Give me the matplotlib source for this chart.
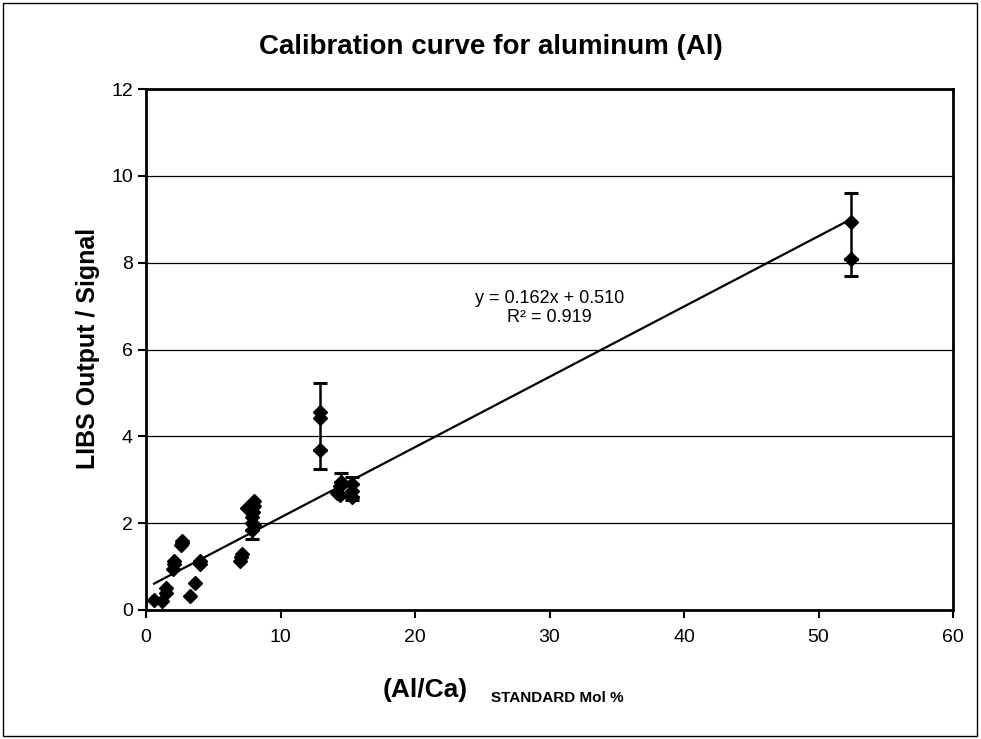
import matplotlib.pyplot as plt
from matplotlib.patches import Rectangle

plt.rcParams['font.family'] = ['Liberation Sans', 'DejaVu Sans']

# Al/Ca standard mol % vs LIBS signal, one entry per replicate
al_ca = [0.6, 1.2, 1.45, 1.5, 2.0, 2.05, 2.05, 2.6, 2.7, 2.7,
         3.3, 3.65, 4.0, 4.05, 7.0, 7.1, 7.15,
         7.5, 7.85, 7.9, 7.9, 7.95, 8.0, 8.0, 8.05,
         12.9, 12.9, 12.9,
         14.2, 14.4, 14.4, 14.5,
         15.3, 15.3, 15.3,
         52.4, 52.4]
signal = [0.23, 0.2, 0.4, 0.5, 0.95, 1.05, 1.12, 1.5, 1.6, 1.55,
          0.32, 0.62, 1.05, 1.12, 1.12, 1.22, 1.3,
          2.35, 1.85, 2.0, 2.15, 2.25, 2.4, 2.5, 1.95,
          4.56, 4.42, 3.68,
          2.7, 2.65, 2.85, 2.95,
          2.6, 2.75, 2.9,
          8.94, 8.08]
# error bar extents below / above each point (0 = none visible)
err_low = [0, 0, 0, 0, 0, 0, 0, 0, 0, 0,
           0, 0, 0, 0, 0, 0, 0,
           0, 0.22, 0, 0, 0, 0, 0, 0,
           0.88, 0, 0.44,
           0, 0, 0, 0,
           0.07, 0, 0,
           0.86, 0.39]
err_high = [0, 0, 0, 0, 0, 0, 0, 0, 0, 0,
            0, 0, 0, 0, 0, 0, 0,
            0, 0, 0, 0, 0, 0, 0, 0,
            0.66, 0, 0,
            0, 0, 0, 0.2,
            0, 0, 0.17,
            0.66, 0]

slope = 0.162
intercept = 0.510
r_squared = 0.919

W, H = 981, 739
fig = plt.figure(figsize=(W / 100, H / 100), dpi=100)
ax = fig.add_axes([146 / W, 1 - 610 / H, (953 - 146) / W, (610 - 89) / H])

# bars with caps only where an extent is given
bar_x = [x for x, lo, hi in zip(al_ca, err_low, err_high) if lo or hi]
bar_y = [y for y, lo, hi in zip(signal, err_low, err_high) if lo or hi]
bar_lo = [lo for lo, hi in zip(err_low, err_high) if lo or hi]
bar_hi = [hi for lo, hi in zip(err_low, err_high) if lo or hi]
ax.errorbar(bar_x, bar_y, yerr=[bar_lo, bar_hi], fmt='none', ecolor='black',
            elinewidth=1.8, capsize=5, capthick=2.2, zorder=3)
ax.plot(al_ca, signal, 'D', color='black', markersize=7, zorder=4)

fit_x = [min(al_ca), max(al_ca)]
fit_y = [slope * v + intercept for v in fit_x]
ax.plot(fit_x, fit_y, color='black', lw=1.6, zorder=2)

ax.text(30, 6.95, f"y = {slope:.3f}x + {intercept:.3f}\nR² = {r_squared:.3f}",
        ha='center', va='center', fontsize=13, linespacing=1.15)

ax.set_xlim(0, 60)
ax.set_ylim(0, 12)
ax.set_xticks(range(0, 61, 10))
ax.set_yticks(range(0, 13, 2))
ax.yaxis.grid(True, color='black', lw=0.9)
ax.set_axisbelow(True)
ax.tick_params(labelsize=14, width=1.5, length=6, direction='out')
ax.tick_params(axis='x', pad=8)
for sp in ax.spines.values():
    sp.set_linewidth(2)

fig.text(0.5, 1 - 47 / H, 'Calibration curve for aluminum (Al)',
         ha='center', va='center', fontsize=20, fontweight='bold')
fig.text(88 / W, 1 - 348 / H, 'LIBS Output / Signal', rotation=90,
         ha='center', va='center', fontsize=18, fontweight='bold')
fig.text(383 / W, 1 - 690 / H, '(Al/Ca)', ha='left', va='center',
         fontsize=19, fontweight='bold')
fig.text(491 / W, 1 - 698 / H, 'STANDARD Mol %', ha='left', va='center',
         fontsize=11, fontweight='bold')

fig.patches.append(Rectangle((3 / W, 3 / H), 974 / W, 733 / H, fill=False,
                             lw=1, edgecolor='black', transform=fig.transFigure))

fig.savefig('out.png', dpi=100)
